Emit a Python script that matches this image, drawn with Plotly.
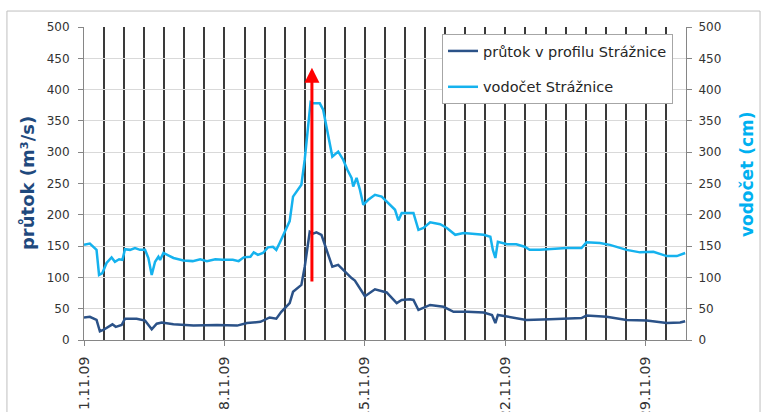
import pandas as pd
import plotly.graph_objects as go

# ---- data (hours since 1.11.2009 00:00) ----
start = pd.Timestamp("2009-11-01")

pru_h = [0, 7, 15, 19, 23, 29, 34, 38, 45, 49, 63, 73, 81, 87, 93, 107, 131, 159, 183, 195,
         211, 222, 230, 236, 242, 246, 250, 260, 264, 270, 274, 278, 284, 290, 297, 304, 312, 320, 324, 330,
         336, 348, 362, 374, 380, 390, 394, 400, 414, 430, 442, 458, 478, 488, 492, 495, 509, 529, 557, 595,
         601, 625, 649, 673, 697, 713, 719]
pru_v = [36, 37, 32, 14, 16, 21, 25, 21, 24, 34, 34, 31, 17, 26, 28, 25, 23, 24, 23, 27,
         29, 36, 34, 45, 54, 59, 77, 88, 117, 173, 170, 172, 168, 144, 117, 120, 109, 99, 95, 83,
         70, 81, 76, 59, 64, 65, 64, 48, 56, 53, 45, 45, 44, 40, 27, 40, 37, 32, 33, 35,
         39, 37, 32, 31, 27, 28, 30]

vod_h = [0, 7, 15, 18, 22, 27, 33, 37, 42, 46, 49, 55, 61, 67, 73, 77, 81, 85, 89, 91,
         95, 99, 107, 119, 130, 139, 147, 157, 166, 178, 185, 191, 199, 203, 208, 214, 220, 226, 230, 234,
         238, 246, 250, 260, 264, 268, 271, 274, 278, 282, 286, 292, 297, 304, 310, 315, 320, 322, 326, 330,
         334, 340, 348, 356, 364, 372, 376, 380, 384, 394, 400, 406, 414, 426, 434, 444, 454, 466, 478, 486,
         489, 492, 495, 506, 517, 527, 533, 545, 561, 577, 595, 601, 617, 629, 649, 665, 681, 697, 709, 719]
vod_v = [152, 154, 144, 104, 107, 123, 132, 125, 129, 128, 145, 144, 147, 144, 144, 131, 104, 125, 133, 128,
         139, 136, 131, 127, 126, 129, 126, 129, 128, 128, 126, 132, 133, 140, 136, 139, 148, 149, 144, 155,
         167, 190, 229, 248, 288, 346, 380, 378, 378, 378, 368, 328, 293, 301, 288, 272, 259, 245, 259, 240,
         216, 224, 232, 229, 219, 208, 191, 203, 203, 203, 176, 179, 188, 185, 179, 168, 171, 170, 168, 165,
         144, 131, 157, 153, 153, 149, 144, 144, 146, 147, 147, 156, 155, 152, 144, 140, 141, 134, 134, 139]

arrow_h = 272.6          # arrow position (hours)
arrow_from, arrow_to = 91, 435

names = ["průtok v profilu Strážnice", "vodočet Strážnice"]
y_title_left = "průtok (m³/s)"
y_title_right = "vodočet (cm)"

t_pru = start + pd.to_timedelta(pru_h, unit="h")
t_vod = start + pd.to_timedelta(vod_h, unit="h")
t_arrow = (start + pd.Timedelta(hours=arrow_h)).strftime("%Y-%m-%d %H:%M:%S")

DARK = "#2B5288"
LIGHT = "#15B2EE"

fig = go.Figure()
fig.add_trace(go.Scatter(x=t_pru, y=pru_v, mode="lines", name=names[0], legendgroup="a",
                         line=dict(color=DARK, width=2.5), yaxis="y"))
fig.add_trace(go.Scatter(x=t_vod, y=vod_v, mode="lines", name=names[1], legendgroup="b",
                         line=dict(color=LIGHT, width=2.5), yaxis="y2"))

axis_gray = "#868686"
fig.update_layout(
    width=763, height=412,
    margin=dict(l=84, r=77, t=27, b=72),
    paper_bgcolor="white", plot_bgcolor="white",
    font=dict(family="DejaVu Sans", color="#404040"),
    xaxis=dict(
        type="date", automargin=False,
        range=[start, start + pd.Timedelta(days=30)],
        tick0=start, dtick=7 * 86400000,
        tickformat="%-d.%m.%y", tickangle=-90,
        tickfont=dict(size=14, color="#333333"),
        ticks="outside", ticklen=5, tickcolor=axis_gray,
        ticklabelstandoff=5,
        showline=True, linecolor=axis_gray, linewidth=1,
        showgrid=True, gridcolor="#3a3a3a", gridwidth=1.5,
        minor=dict(dtick=86400000, showgrid=True, gridcolor="#3a3a3a", gridwidth=1.5, ticks=""),
        zeroline=False,
    ),
    yaxis=dict(
        range=[0, 500], dtick=50, automargin=False,
        tickfont=dict(size=12, color="#333333"),
        ticks="outside", ticklen=5, tickcolor=axis_gray,
        ticklabelstandoff=6,
        showline=True, linecolor=axis_gray, linewidth=1,
        showgrid=True, gridcolor="#D9D9D9", gridwidth=1,
        zeroline=False,
    ),
    yaxis2=dict(
        range=[0, 500], dtick=50, overlaying="y", side="right", automargin=False,
        tickfont=dict(size=12, color="#333333"),
        ticks="outside", ticklen=5, tickcolor=axis_gray,
        ticklabelstandoff=4,
        showline=True, linecolor=axis_gray, linewidth=1,
        showgrid=False, zeroline=False,
    ),
    legend=dict(
        x=0.5947, y=0.9776, xanchor="left", yanchor="top",
        bgcolor="white", bordercolor="#A6A6A6", borderwidth=1,
        font=dict(size=14.5, color="#262626"),
        tracegroupgap=14, itemwidth=30,
    ),
    showlegend=True,
)

fig.add_annotation(xref="paper", yref="paper", x=-0.093, y=0.5016, text="<b>" + y_title_left + "</b>",
                   textangle=-90, showarrow=False, xanchor="center", yanchor="middle",
                   font=dict(size=18, color="#1F497D"))
fig.add_annotation(xref="paper", yref="paper", x=1.1013, y=0.530, text="<b>" + y_title_right + "</b>",
                   textangle=-90, showarrow=False, xanchor="center", yanchor="middle",
                   font=dict(size=17, color="#00B0F0"))

fig.add_annotation(x=t_arrow, y=arrow_to, ax=t_arrow, ay=arrow_from, xref="x", yref="y",
                   axref="x", ayref="y", text="", showarrow=True,
                   arrowhead=2, arrowsize=1.0, arrowwidth=3, arrowcolor="#FF0000", standoff=0)

fig.add_shape(type="rect", xref="paper", yref="paper", x0=-0.128, x1=1.123, y0=-0.35, y1=1.051,
              line=dict(color="#BFBFBF", width=1), fillcolor="rgba(0,0,0,0)", layer="below")

fig.write_html("out.html", config={"displayModeBar": False},
               post_script="document.body.style.margin='0';")
